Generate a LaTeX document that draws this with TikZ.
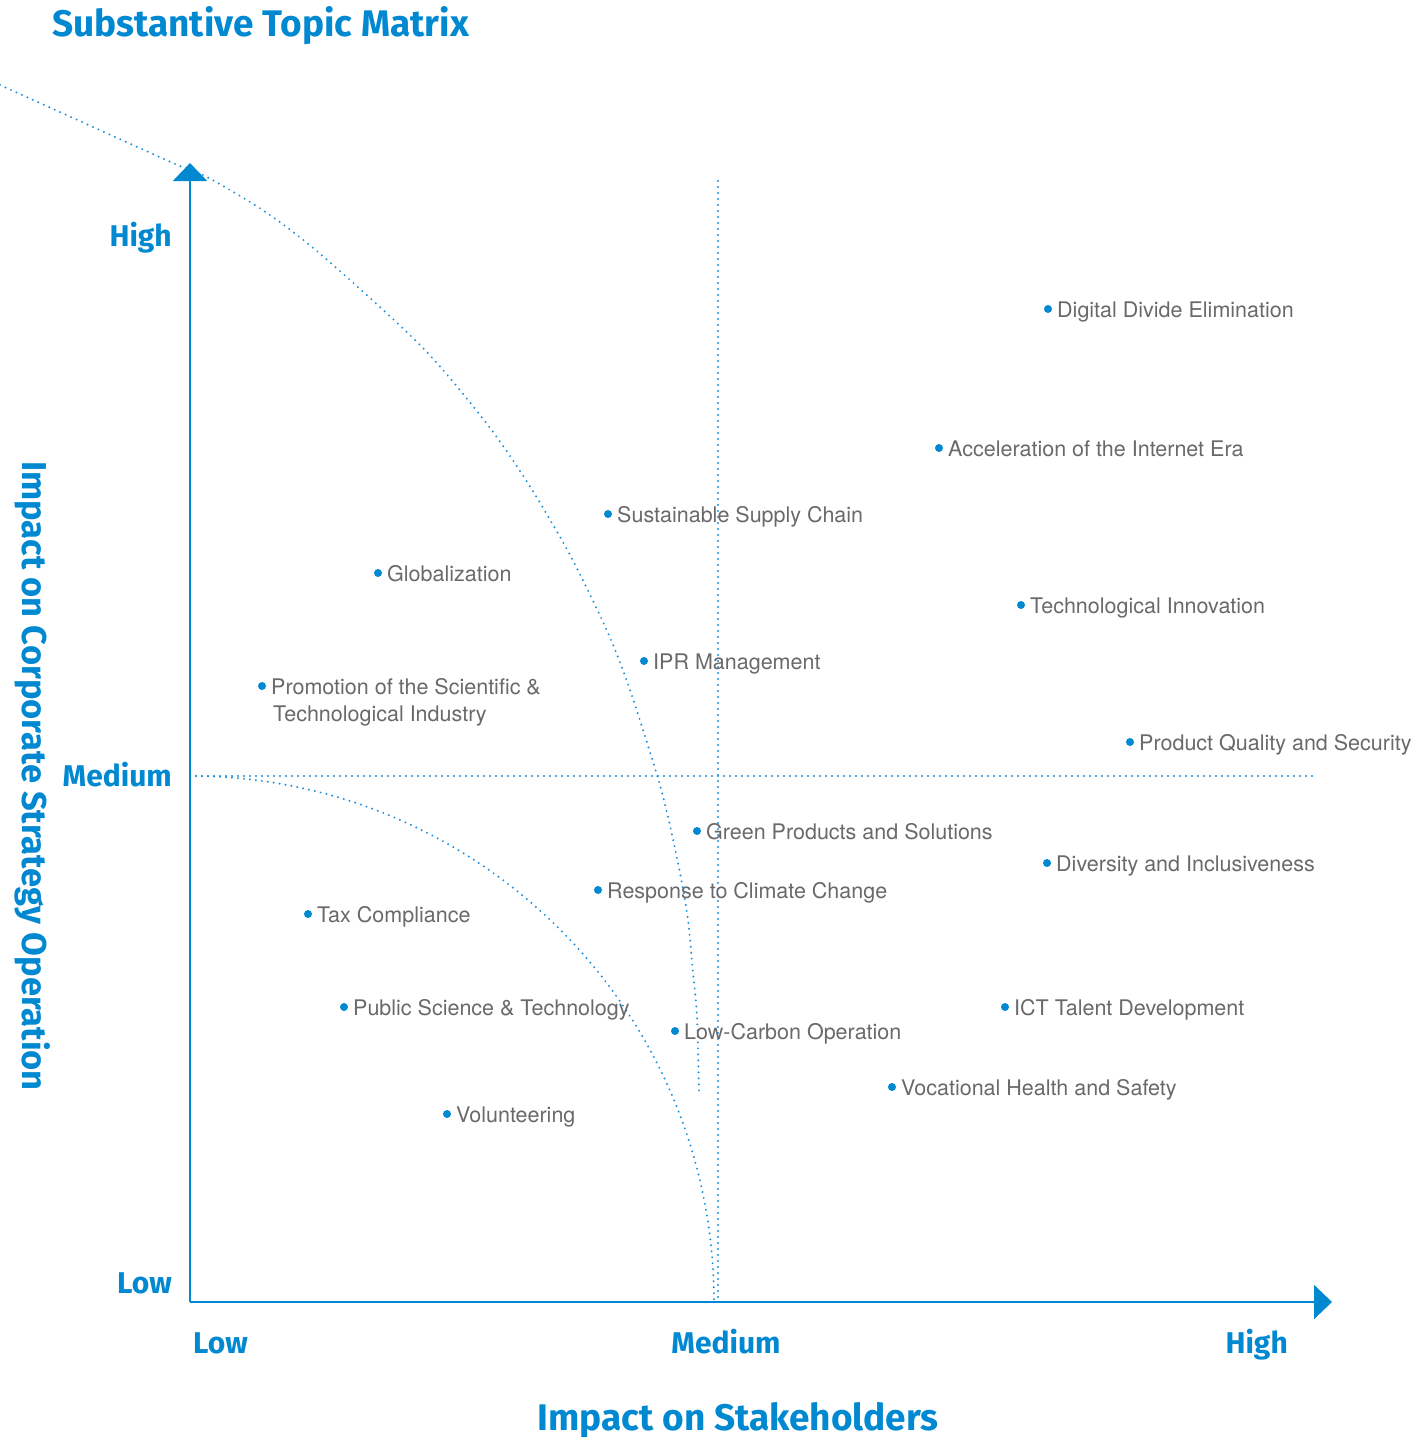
\documentclass[tikz,border=0pt]{standalone}
\usepackage{fontspec}
\setmainfont{TeX Gyre Heros}
\newfontfamily\headfont{Fira Sans}
\usetikzlibrary{calc}
\usetikzlibrary{arrows.meta}
\definecolor{mtblue}{RGB}{0,136,209}
\definecolor{mtguide}{RGB}{30,145,218}
\definecolor{mtgray}{RGB}{105,105,108}
\newcommand{\axiswidth}{2pt}
\newcommand{\headsize}{\fontsize{37}{42}\selectfont}
\newcommand{\sideheadsize}{\fontsize{34.5}{40}\selectfont}
\newcommand{\levelsize}{\fontsize{30}{35}\selectfont}
\tikzset{
	axisline/.style={draw=mtblue, line width=\axiswidth, -{Triangle[length=18pt, width=34pt]}},
	guide/.style={draw=mtguide, line width=2.2pt, line cap=round, dash pattern=on 0pt off 6pt},
	topicdot/.style={circle, fill=mtblue, inner sep=0pt, minimum size=8pt},
	topiclabel/.style={anchor=base west, inner sep=0pt, text=mtgray, font=\fontsize{21.5}{26}\selectfont},
	levellabel/.style={inner sep=0pt, text=mtblue, font=\headfont\bfseries\levelsize},
	headlabel/.style={inner sep=0pt, text=mtblue, font=\headfont\bfseries\headsize},
}
\begin{document}
\begin{tikzpicture}[x=1pt, y=-1pt]
	\useasboundingbox (0,0) rectangle (1415,1437);

	\coordinate (O) at (190,1302);
	\coordinate (ytip) at (190,163);
	\coordinate (xtip) at (1332,1302);
	\coordinate (midtop) at (718,181);
	\coordinate (midbot) at (718,1302);
	\coordinate (medl) at (190,776);
	\coordinate (medr) at (1317,776);
	\coordinate (lowend) at (714,1302);

	% guide lines
	\draw[guide] (midtop) -- (midbot);
	\draw[guide] (medl) -- (medr);
	\draw[guide] (medl) .. controls (479,776) and (714,1011) .. (lowend);
	\draw[guide] plot[smooth, tension=0.5] coordinates {
		(0,85) (173,163) (207,177) (267,213) (325,258)
		(422,347) (487,424) (529,485) (570,555) (608,633) (630,690)
		(657,775) (668,817) (680,873) (688,920) (693,973) (697,1017) (699,1092)};

	% axes
	\draw[axisline] (O) -- (ytip);
	\draw[axisline] (O) -- (xtip);

	% titles
	\node[headlabel, anchor=base west] (title) at (52,37) {Substantive Topic Matrix};
	\node[headlabel, anchor=base] (xtitle) at (738,1430) {Impact on Stakeholders};
	\node[headlabel, font=\headfont\bfseries\sideheadsize, anchor=base, rotate=-90] (ytitle) at (22,776) {Impact on Corporate Strategy Operation};

	% levels
	\node[levellabel, anchor=base east] (yhigh) at (172,246) {High};
	\node[levellabel, anchor=base east] (ymed) at (172,786) {Medium};
	\node[levellabel, anchor=base east] (ylow) at (172,1293) {Low};
	\node[levellabel, anchor=base west] (xlow) at (193,1353) {Low};
	\node[levellabel, anchor=base] (xmed) at (726,1353) {Medium};
	\node[levellabel, anchor=base east] (xhigh) at (1288,1353) {High};

	% topics
	\foreach \px/\py/\tag/\txt in {
		1048/309/dde/{Digital Divide Elimination},
		939/448/aie/{Acceleration of the Internet Era},
		608/514/ssc/{Sustainable Supply Chain},
		378/573/glo/{Globalization},
		1021/605/tin/{Technological Innovation},
		644/661/ipr/{IPR Management},
		262/686/pst/{Promotion of the Scientific \&},
		1130/742/pqs/{Product Quality and Security},
		697/831/gps/{Green Products and Solutions},
		1047/863/dai/{Diversity and Inclusiveness},
		598/890/rcc/{Response to Climate Change},
		308/914/tax/{Tax Compliance},
		344/1007/pub/{Public Science \& Technology},
		1005/1007/ict/{ICT Talent Development},
		675/1031/lco/{Low-Carbon Operation},
		892/1087/vhs/{Vocational Health and Safety},
		447/1114/vol/{Volunteering}}{
		\node[topicdot] (d-\tag) at (\px,\py) {};
		\node[topiclabel] (l-\tag) at ($(d-\tag)+(9,8)$) {\txt};
	}
	\node[topiclabel] (l-pst2) at ($(l-pst.base west)+(2,27)$) {Technological Industry};

\end{tikzpicture}
\end{document}
